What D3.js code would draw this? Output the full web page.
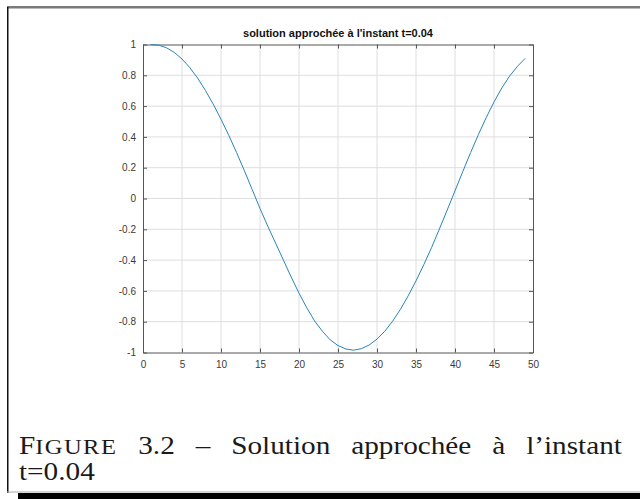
<!DOCTYPE html>
<html>
<head>
<meta charset="utf-8">
<script src="https://cdn.jsdelivr.net/npm/d3@7"></script>
<style>
  body { margin: 0; background: #fff; }
  svg { display: block; }
</style>
</head>
<body>
<svg width="640" height="499"></svg>
<script>
// valeurs (x = 1..49)
var xs = d3.range(1, 50);
var ys = [1.000, 0.996, 0.979, 0.949, 0.906, 0.850, 0.782, 0.702, 0.613, 0.515,
          0.410, 0.298, 0.180, 0.058, -0.065, -0.180, -0.290, -0.400, -0.510, -0.615,
          -0.710, -0.795, -0.862, -0.918, -0.955, -0.977, -0.985, -0.975, -0.951, -0.913,
          -0.862, -0.797, -0.720, -0.632, -0.535, -0.430, -0.318, -0.198, -0.075, 0.050,
          0.175, 0.298, 0.415, 0.525, 0.627, 0.718, 0.795, 0.858, 0.910];
var xTicks = d3.range(0, 51, 5);
var yTicks = [-1, -0.8, -0.6, -0.4, -0.2, 0, 0.2, 0.4, 0.6, 0.8, 1];
var title = "solution approchée à l'instant t=0.04";
var captionWords = ["FIGURE", "3.2", "–", "Solution", "approchée", "à", "l’instant"];
var captionLine2 = "t=0.04";

var svg = d3.select("svg");
var plot = {left: 143, right: 533, top: 44.5, bottom: 352.5};

// cadre de la page
svg.append("rect").attr("x", 7).attr("y", 6).attr("width", 633).attr("height", 2.5).attr("fill", "#7a7a7a");
svg.append("rect").attr("x", 7).attr("y", 7).attr("width", 1.5).attr("height", 486).attr("fill", "#111");
svg.append("rect").attr("x", 7).attr("y", 491.5).attr("width", 633).attr("height", 1).attr("fill", "#aaa");
svg.append("rect").attr("x", 18).attr("y", 493).attr("width", 622).attr("height", 6).attr("fill", "#000");

var x = d3.scaleLinear().domain([0, 50]).range([plot.left, plot.right]);
var y = d3.scaleLinear().domain([-1, 1]).range([plot.bottom, plot.top]);

var g = svg.append("g");

// grille
g.append("g").selectAll("line")
  .data(xTicks.slice(1, -1)).enter().append("line")
  .attr("x1", function(d) { return x(d); }).attr("x2", function(d) { return x(d); })
  .attr("y1", plot.top).attr("y2", plot.bottom)
  .attr("stroke", "#dedede").attr("stroke-width", 1);
g.append("g").selectAll("line")
  .data(yTicks.slice(1, -1)).enter().append("line")
  .attr("x1", plot.left).attr("x2", plot.right)
  .attr("y1", function(d) { return y(d); }).attr("y2", function(d) { return y(d); })
  .attr("stroke", "#dedede").attr("stroke-width", 1);

// axes (ticks vers l'intérieur)
var fmt = function(d) { return String(+d.toFixed(1)); };
var axisStyle = function(sel) {
  sel.selectAll("path").attr("stroke", "#555");
  sel.selectAll(".tick line").attr("stroke", "#555");
  sel.selectAll("text").attr("fill", "#3a3a3a").style("font-family", "'Liberation Sans', Arial, sans-serif").style("font-size", "10px");
};
g.append("g").attr("transform", "translate(0," + plot.bottom + ")")
  .call(d3.axisBottom(x).tickValues(xTicks).tickSizeInner(-4).tickSizeOuter(0).tickPadding(8))
  .call(axisStyle);
g.append("g").attr("transform", "translate(0," + plot.top + ")")
  .call(d3.axisTop(x).tickValues(xTicks).tickSizeInner(-4).tickSizeOuter(0).tickFormat(""))
  .call(axisStyle);
g.append("g").attr("transform", "translate(" + plot.left + ",0)")
  .call(d3.axisLeft(y).tickValues(yTicks).tickSizeInner(-4).tickSizeOuter(0).tickPadding(7).tickFormat(fmt))
  .call(axisStyle);
g.append("g").attr("transform", "translate(" + plot.right + ",0)")
  .call(d3.axisRight(y).tickValues(yTicks).tickSizeInner(-4).tickSizeOuter(0).tickFormat(""))
  .call(axisStyle);

// courbe
var line = d3.line().x(function(d, i) { return x(xs[i]); }).y(function(d) { return y(d); });
g.append("path").datum(ys)
  .attr("d", line)
  .attr("fill", "none")
  .attr("stroke", "#2a84bb")
  .attr("stroke-width", 1);

// titre
svg.append("text")
  .attr("x", (plot.left + plot.right) / 2).attr("y", 37)
  .attr("text-anchor", "middle")
  .style("font-family", "'Liberation Sans', Arial, sans-serif")
  .style("font-size", "11px").style("font-weight", "bold")
  .attr("fill", "#111")
  .text(title);

// légende de la figure, justifiée (police élargie façon Computer Modern)
var sx = 1.17;
var cap = svg.append("g")
  .style("font-family", "'Liberation Serif', 'DejaVu Serif', serif")
  .style("font-size", "25px")
  .attr("fill", "#1a1a1a");
var words = cap.selectAll("text").data(captionWords).enter().append("text");
words.each(function(d, i) {
  var t = d3.select(this);
  if (i === 0) {
    // petites capitales
    t.append("tspan").text(d.charAt(0));
    t.append("tspan").style("font-size", "21px").style("letter-spacing", "1.2px").text(d.slice(1));
  } else {
    t.text(d);
  }
});
var widths = [];
words.each(function() { widths.push(this.getComputedTextLength() * sx); });
var x0 = 19, x1 = 622;
var gap = (x1 - x0 - d3.sum(widths)) / (widths.length - 1);
var pos = x0;
words.attr("transform", function(d, i) {
  var p = pos; pos += widths[i] + gap;
  return "translate(" + p + ",454) scale(" + sx + ",1)";
});
cap.append("text").attr("transform", "translate(19,480) scale(" + sx + ",1)").text(captionLine2);
</script>
</body>
</html>
